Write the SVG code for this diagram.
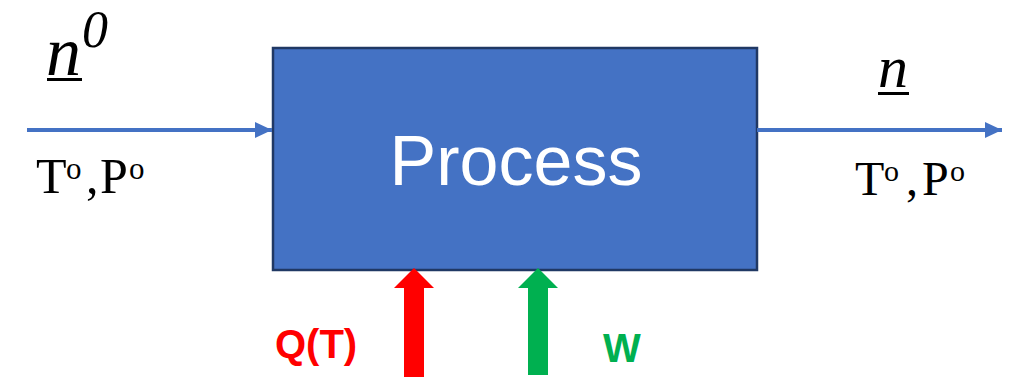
<svg xmlns="http://www.w3.org/2000/svg" width="1011" height="383" viewBox="0 0 1011 383">
  <style>
    .serif { font-family: "Liberation Serif", "Times New Roman", serif; fill: #000; }
    .ital { font-style: italic; }
    .flow { stroke: #4472c4; stroke-width: 4; fill: none; }
    .label { font-family: "Liberation Sans", Arial, sans-serif; font-weight: bold; font-size: 40px; }
  </style>
  <defs>
    <marker id="blueHead" markerUnits="userSpaceOnUse" markerWidth="18" markerHeight="16" refX="17" refY="8" orient="auto">
      <path d="M0,0 L17,8 L0,16 Z" fill="#4472c4"/>
    </marker>
  </defs>

  <!-- process block -->
  <g id="process">
    <rect x="273" y="48" width="484" height="222" fill="#4472c4" stroke="#203864" stroke-width="2.5"/>
    <text x="516" y="185" text-anchor="middle" font-family="Liberation Sans, Arial, sans-serif" font-size="70" fill="#ffffff">Process</text>
  </g>

  <!-- connectors -->
  <g id="connectors">
    <line class="flow" x1="27" y1="130" x2="272" y2="130" marker-end="url(#blueHead)"/>
    <line class="flow" x1="757" y1="130" x2="1002" y2="130" marker-end="url(#blueHead)"/>
    <!-- heat input -->
    <path d="M404,377 L404,288 L394,288 L414,268 L434,288 L424,288 L424,377 Z" fill="#ff0000"/>
    <!-- work input -->
    <path d="M528,375 L528,288 L518,288 L538,268 L558,288 L548,288 L548,375 Z" fill="#00b050"/>
  </g>

  <!-- inlet stream -->
  <g id="inlet">
    <text class="serif ital" x="46" y="75" font-size="70">n</text>
    <rect x="47" y="78" width="35" height="3" fill="#000"/>
    <text class="serif ital" x="82" y="47" font-size="52">0</text>
    <text class="serif" x="36" y="193" font-size="50">T<tspan x="66" y="179" font-size="31">o</tspan><tspan x="86" y="193">,</tspan><tspan x="100">P</tspan><tspan x="129" y="179" font-size="31">o</tspan></text>
  </g>

  <!-- outlet stream -->
  <g id="outlet">
    <text class="serif ital" x="878" y="87" font-size="60">n</text>
    <rect x="878" y="92" width="31" height="3" fill="#000"/>
    <text class="serif" x="855" y="195" font-size="48">T<tspan x="884" y="181" font-size="30">o</tspan><tspan x="906" y="195">,</tspan><tspan x="922">P</tspan><tspan x="950" y="181" font-size="30">o</tspan></text>
  </g>

  <!-- energy labels -->
  <g id="heat-label">
    <text class="label" x="275" y="358" fill="#ff0000">Q(T)</text>
  </g>
  <g id="work-label">
    <text class="label" x="603" y="362" fill="#00b050">W</text>
  </g>
</svg>
